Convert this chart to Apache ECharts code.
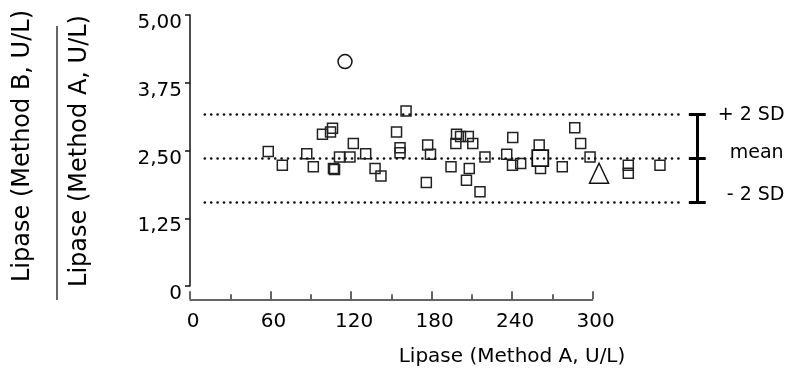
<!DOCTYPE html>
<html>
<head>
<meta charset="utf-8">
<script src="https://cdn.jsdelivr.net/npm/echarts@6/dist/echarts.min.js"></script>
<style>
  html, body { margin: 0; padding: 0; background: #fff; }
  #chart { width: 806px; height: 374px; }
</style>
</head>
<body>
<div id="chart"></div>
<script>
// Lipase method comparison: ratio B/A against method A
const X_TICKS = [0, 60, 120, 180, 240, 300];
const X_TICK_LABELS = ['0', '60', '120', '180', '240', '300'];
const Y_TICK_LABELS = ['0', '1,25', '2,50', '3,75', '5,00'];

const METHOD_A = [58.3, 68.8, 87.0, 91.9, 98.7, 104.7, 106.2, 106.9, 107.7, 111.4,
  119.2, 121.7, 130.9, 137.9, 142.3, 153.9, 156.5, 156.5, 161.0, 177.1,
  179.2, 176.1, 194.5, 198.6, 198.1, 201.6, 207.4, 210.7, 208.1, 206.0,
  216.1, 219.8, 240.5, 236.0, 240.3, 246.4, 260.2, 261.2, 277.4, 286.7,
  291.1, 298.1, 326.6, 326.6, 350.2];
const RATIO = [2.48, 2.23, 2.44, 2.20, 2.80, 2.84, 2.91, 2.17, 2.15, 2.38,
  2.38, 2.63, 2.44, 2.17, 2.03, 2.84, 2.55, 2.46, 3.23, 2.60,
  2.43, 1.91, 2.20, 2.80, 2.63, 2.76, 2.76, 2.63, 2.17, 1.95,
  1.74, 2.38, 2.74, 2.43, 2.23, 2.26, 2.60, 2.17, 2.20, 2.92,
  2.63, 2.38, 2.23, 2.08, 2.23];

const LARGE_SQUARE = [261.0, 2.36];
const CIRCLE = [115.5, 4.14];
const TRIANGLE = [304.8, 2.08];

const MEAN = 2.36;
const SD2 = 0.81;
const LINE_START = 11;
const LINE_END = 365;
const BAR_X = 378;
const CAP = 6.3;
const SD_LABELS = ['+ 2 SD', 'mean', '- 2 SD'];

const FONT = 'DejaVu Sans';
const INK = '#000';

const chart = echarts.init(document.getElementById('chart'));

const levels = [MEAN + SD2, MEAN, MEAN - SD2];

const dotted = { type: [0.1, 6.3], cap: 'round', width: 2.6, color: '#111' };
const bold = { type: 'solid', width: 3, color: '#000' };

const refLines = levels.map((y) => [
  { coord: [LINE_START, y], lineStyle: dotted },
  { coord: [LINE_END, y] },
]);
const barLines = levels.map((y) => [
  { coord: [BAR_X - CAP, y], lineStyle: bold },
  { coord: [BAR_X + CAP, y] },
]);
barLines.push([
  { coord: [BAR_X, levels[0]], lineStyle: bold },
  { coord: [BAR_X, levels[2]] },
]);

const labelOffsets = [[20, 1], [32, -5], [29, -7]];

chart.setOption({
  animation: false,
  textStyle: { fontFamily: FONT, color: INK },
  grid: [
    { left: 190, top: 15, width: 400 * 1.342, height: 271 },
    { left: 190, top: 15, width: 300 * 1.342, height: 284.3 },
  ],
  xAxis: [
    { gridIndex: 0, type: 'value', min: 0, max: 400, show: false },
    {
      gridIndex: 1,
      type: 'value',
      min: 0,
      max: 300,
      interval: 60,
      axisLine: { lineStyle: { color: '#333', width: 1.5 } },
      axisTick: { inside: true, length: 8, lineStyle: { color: '#333', width: 1.5 } },
      minorTick: { show: true, splitNumber: 2, length: 5, lineStyle: { color: '#333', width: 1.5 } },
      splitLine: { show: false },
      axisLabel: {
        margin: 12,
        fontSize: 20,
        fontFamily: FONT,
        color: INK,
        padding: [0, 0, 0, 6],
        formatter: (v) => X_TICK_LABELS[X_TICKS.indexOf(v)],
      },
    },
  ],
  yAxis: [
    {
      gridIndex: 0,
      type: 'value',
      min: 0,
      max: 5,
      interval: 1.25,
      axisLine: { show: true, lineStyle: { color: '#111', width: 1.5 } },
      axisTick: { show: true, length: 5, lineStyle: { color: '#111', width: 1.5 } },
      splitLine: { show: false },
      axisLabel: {
        margin: 8,
        fontSize: 20,
        lineHeight: 16,
        verticalAlign: 'top',
        fontFamily: FONT,
        color: INK,
        formatter: (v, i) => Y_TICK_LABELS[i],
      },
    },
    { gridIndex: 1, type: 'value', min: 0, max: 5, show: false },
  ],
  series: [
    {
      type: 'line',
      xAxisIndex: 0,
      yAxisIndex: 0,
      data: [],
      silent: true,
      markLine: {
        silent: true,
        symbol: 'none',
        label: { show: false },
        data: refLines.concat(barLines),
      },
    },
    {
      name: 'samples',
      type: 'scatter',
      xAxisIndex: 0,
      yAxisIndex: 0,
      symbol: 'rect',
      symbolSize: 10,
      itemStyle: { color: 'rgba(0,0,0,0)', borderColor: '#222', borderWidth: 1.5, opacity: 1 },
      data: METHOD_A.map((x, i) => [x, RATIO[i]]),
    },
    {
      name: 'large',
      type: 'scatter',
      xAxisIndex: 0,
      yAxisIndex: 0,
      symbol: 'rect',
      symbolSize: 16,
      itemStyle: { color: '#fff', borderColor: '#111', borderWidth: 1.8, opacity: 1 },
      data: [LARGE_SQUARE],
    },
    {
      name: 'circle',
      type: 'scatter',
      xAxisIndex: 0,
      yAxisIndex: 0,
      symbol: 'circle',
      symbolSize: 14,
      itemStyle: { color: 'rgba(0,0,0,0)', borderColor: '#111', borderWidth: 1.5, opacity: 1 },
      data: [CIRCLE],
    },
    {
      name: 'triangle',
      type: 'scatter',
      xAxisIndex: 0,
      yAxisIndex: 0,
      symbol: 'triangle',
      symbolSize: [19, 20],
      itemStyle: { color: 'rgba(0,0,0,0)', borderColor: '#111', borderWidth: 1.5, opacity: 1 },
      data: [TRIANGLE],
    },
    {
      name: 'sd labels',
      type: 'scatter',
      xAxisIndex: 0,
      yAxisIndex: 0,
      symbolSize: 1,
      silent: true,
      itemStyle: { color: 'rgba(0,0,0,0)', opacity: 1 },
      data: levels.map((y, i) => ({
        value: [BAR_X, y],
        label: {
          show: true,
          position: 'right',
          distance: 0,
          offset: labelOffsets[i],
          formatter: SD_LABELS[i],
          fontSize: 19,
          fontFamily: FONT,
          color: INK,
          opacity: 1,
        },
      })),
    },
  ],
  graphic: [
    {
      type: 'text',
      x: 23,
      y: 146,
      rotation: Math.PI / 2,
      style: {
        text: 'Lipase (Method B, U/L)',
        font: '24px "DejaVu Sans"',
        fill: INK,
        align: 'center',
        verticalAlign: 'middle',
      },
    },
    {
      type: 'line',
      shape: { x1: 57, y1: 26, x2: 57, y2: 300 },
      style: { stroke: '#333', lineWidth: 1.5 },
    },
    {
      type: 'text',
      x: 80,
      y: 151,
      rotation: Math.PI / 2,
      style: {
        text: 'Lipase (Method A, U/L)',
        font: '24px "DejaVu Sans"',
        fill: INK,
        align: 'center',
        verticalAlign: 'middle',
      },
    },
    {
      type: 'text',
      x: 512,
      y: 357,
      style: {
        text: 'Lipase (Method A, U/L)',
        font: '20px "DejaVu Sans"',
        fill: INK,
        align: 'center',
        verticalAlign: 'middle',
      },
    },
  ],
});
</script>
</body>
</html>
